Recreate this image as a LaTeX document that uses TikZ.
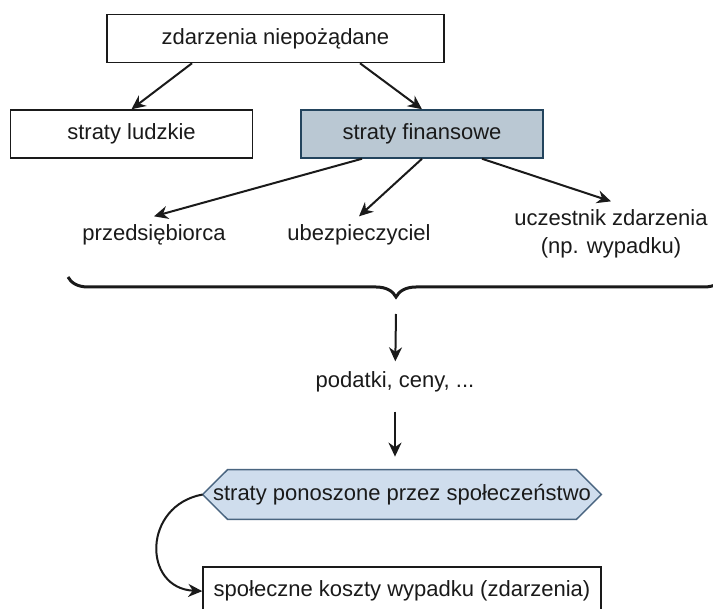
\documentclass[tikz,border=0pt]{standalone}
\usepackage{fontspec}
\setmainfont{Liberation Sans}
\usetikzlibrary{arrows.meta,positioning,backgrounds,decorations.pathreplacing}
\definecolor{ink}{HTML}{1A1A1A}
\definecolor{finfill}{HTML}{BAC8D3}
\definecolor{findraw}{HTML}{23445D}
\definecolor{socfill}{HTML}{CFDDED}
\definecolor{socdraw}{HTML}{4A6580}

\begin{document}
\begin{tikzpicture}[
    x=0.5pt, y=-0.5pt,
    node distance=23.5pt,
    font=\fontsize{11}{13}\selectfont,
    box/.style={draw=ink, line width=0.75pt, minimum height=24pt,
      inner sep=0pt, fill=white, text=ink},
    event/.style={box, minimum width=168.5pt},
    loss/.style={box, minimum width=121pt},
    finloss/.style={loss, draw=findraw, fill=finfill},
    party/.style={text=ink, align=center, inner sep=4pt},
    society/.style={minimum width=199pt, minimum height=24.5pt,
      inner sep=0pt, text=ink},
    hexline/.style={draw=socdraw, fill=socfill, line width=0.75pt},
    outcome/.style={box, minimum width=199pt},
    arrow/.style={-{Stealth[length=7pt, width=6.5pt]}, line width=1pt, draw=ink},
    sumbrace/.style={decorate, decoration={brace, mirror, amplitude=10pt},
      line width=1.5pt, draw=ink}
  ]
    \begin{scope}[on background layer]
      \path[use as bounding box, fill=white] (0,0) rectangle (713,609);
    \end{scope}
    \clip (0,0) rectangle (713,609);

    % upper tree
    \node[event] (event) at (275.5,38.5) {zdarzenia niepożądane};
    \node[loss] (human) at (131.5,134) {straty ludzkie};
    \node[finloss, right=of human] (finance) {straty finansowe};

    \node[party] (entrepreneur) at (154,235) {przedsiębiorca};
    \node[party] (insurer) at (359,235) {ubezpieczyciel};
    \node[party, font=\fontsize{11}{14}\selectfont] (participant) at (611,234)
      {uczestnik zdarzenia\\(np. wypadku)};

    \draw[arrow] ([xshift=-41.75pt]event.south) -- (human.north);
    \draw[arrow] ([xshift=42.25pt]event.south) -- (finance.north);
    \draw[arrow] ([xshift=-30pt]finance.south) -- (entrepreneur.north);
    \draw[arrow] (finance.south) -- (insurer.north);
    \draw[arrow] ([xshift=30pt]finance.south) -- (participant.north);

    % brace and lower chain
    \coordinate (braceL) at (68,277);
    \coordinate (braceR) at (724,277);
    \draw[sumbrace] (braceL) -- (braceR);

    \coordinate (taxfrom) at (396,314);
    \node[party, inner sep=5pt] (tax) at (395,382) {podatki, ceny, ...};
    \node[society] (society) at (402,494.5) {straty ponoszone przez społeczeństwo};
    \begin{scope}[on background layer]
      \draw[hexline] (society.west) -- ([xshift=12.5pt]society.north west)
        -- ([xshift=-12.5pt]society.north east) -- (society.east)
        -- ([xshift=-12.5pt]society.south east)
        -- ([xshift=12.5pt]society.south west) -- cycle;
    \end{scope}
    \node[outcome, below=of society] (outcome)
      {społeczne koszty wypadku (zdarzenia)};

    \draw[arrow] (taxfrom) -- (tax);
    \draw[arrow, shorten <=4.5pt, shorten >=6.5pt]
      (tax.south) -- (tax.south |- society.north);
    \draw[arrow] (society.west) .. controls +(-60,11) and +(-60,-3) .. (outcome.west);
  \end{tikzpicture}
\end{document}
